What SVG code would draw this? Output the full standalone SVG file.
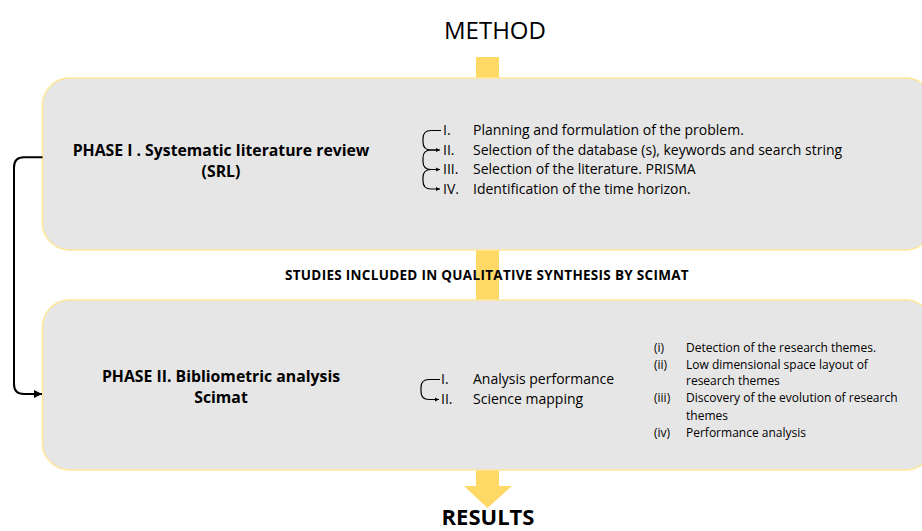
<svg xmlns="http://www.w3.org/2000/svg" width="922" height="531" viewBox="0 0 922 531">
<defs>
<style>
text{font-family:"Open Sans","Noto Sans","Liberation Sans",sans-serif;fill:#000}
.box{fill:#E7E6E6;stroke:#FFE699;stroke-width:1.5}
.title{font-size:24px}
.res{font-size:22px;font-weight:bold}
.phase{font-size:15.8px;font-weight:bold}
.item{font-size:14px}
.item2{font-size:14px}
.small{font-size:12px}
.mid{font-size:13.5px;font-weight:bold;letter-spacing:0.3px}
.c{text-anchor:middle}
.conn{fill:none;stroke:#000;stroke-width:1.2}
.conn2{fill:none;stroke:#000;stroke-width:2}
</style>
<marker id="ah" viewBox="0 0 10 10" refX="10" refY="5" markerWidth="4.5" markerHeight="4.5" markerUnits="userSpaceOnUse" orient="auto"><path d="M0,0 L10,5 L0,10 z" fill="#000"/></marker>
<marker id="ah2" viewBox="0 0 10 10" refX="10" refY="5" markerWidth="8" markerHeight="8" markerUnits="userSpaceOnUse" orient="auto"><path d="M0,0 L10,5 L0,10 z" fill="#000"/></marker>
</defs>
<g id="flow-arrow">
<polygon points="476,57 499,57 499,486 512,486 487.5,508 464,486 476,486" fill="#FFD966"/>
</g>
<g id="method">
<text class="title c" x="495" y="39">METHOD</text>
</g>
<g id="phase1">
<rect class="box" x="42.5" y="78" width="890" height="172" rx="27"/>
<text class="phase c" x="221" y="155.6">PHASE I . Systematic literature review</text>
<text class="phase c" x="221" y="177">(SRL)</text>
<text class="item" x="443" y="135">I.</text>
<text class="item" x="473" y="135">Planning and formulation of the problem.</text>
<text class="item" x="443" y="154.5">II.</text>
<text class="item" x="473" y="154.5">Selection of the database (s), keywords and search string</text>
<text class="item" x="443" y="174">III.</text>
<text class="item" x="473" y="174">Selection of the literature. PRISMA</text>
<text class="item" x="443" y="193.5">IV.</text>
<text class="item" x="473" y="193.5">Identification of the time horizon.</text>
</g>
<g id="studies">
<text class="mid c" x="487" y="280">STUDIES INCLUDED IN QUALITATIVE SYNTHESIS BY SCIMAT</text>
</g>
<g id="phase2">
<rect class="box" x="42.5" y="300" width="890" height="170" rx="27"/>
<text class="phase c" x="221" y="382">PHASE II. Bibliometric analysis</text>
<text class="phase c" x="221" y="403">Scimat</text>
<text class="item2" x="441" y="384">I.</text>
<text class="item2" x="473" y="384">Analysis performance</text>
<text class="item2" x="441" y="404">II.</text>
<text class="item2" x="473" y="404">Science mapping</text>
<text class="small" x="654" y="352">(i)</text>
<text class="small" x="686" y="352">Detection of the research themes.</text>
<text class="small" x="654" y="368.5">(ii)</text>
<text class="small" x="686" y="368.5">Low dimensional space layout of</text>
<text class="small" x="686" y="385">research themes</text>
<text class="small" x="654" y="402">(iii)</text>
<text class="small" x="686" y="402">Discovery of the evolution of research</text>
<text class="small" x="686" y="419.5">themes</text>
<text class="small" x="654" y="437">(iv)</text>
<text class="small" x="686" y="437">Performance analysis</text>
</g>
<g id="results">
<text class="res c" x="488" y="525">RESULTS</text>
</g>
<g id="connectors">
<path class="conn2" d="M42.5,157.3 H24 Q14,157.3 14,167.3 V384 Q14,394 24,394 H42" marker-end="url(#ah2)"/>
<path class="conn" d="M441,130.5 H431 Q423,130.5 423,138.5 V142 Q423,150 431,150 H440" marker-end="url(#ah)"/>
<path class="conn" d="M438,150 H431 Q423,150 423,158 V161.5 Q423,169.5 431,169.5 H440" marker-end="url(#ah)"/>
<path class="conn" d="M438,169.5 H431 Q423,169.5 423,177.5 V181 Q423,189 431,189 H440" marker-end="url(#ah)"/>
<path class="conn" d="M440,379.5 H429 Q421,379.5 421,387.5 V391.5 Q421,399.5 429,399.5 H439" marker-end="url(#ah)"/>
</g>
</svg>
